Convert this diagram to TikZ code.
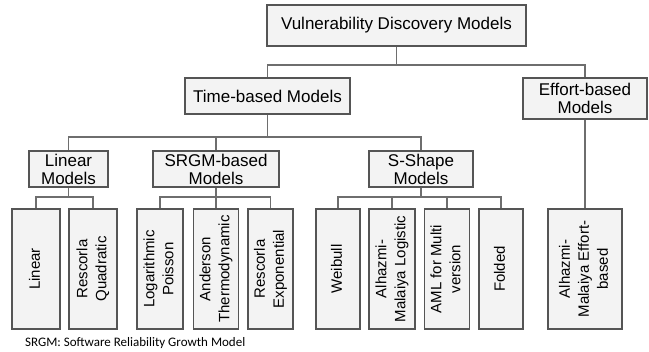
\documentclass[tikz,border=0pt]{standalone}
\usepackage{fontspec}
\setmainfont{Liberation Sans}
\newfontfamily\calib{Carlito}
\definecolor{boxline}{HTML}{555555}
\definecolor{boxfill}{HTML}{F3F3F3}
\definecolor{conn}{HTML}{6E6E6E}
\newcommand{\vlab}[1]{\rotatebox{90}{\fontsize{15}{19}\selectfont\begin{tabular}{@{}c@{}}#1\end{tabular}}}
\begin{document}
\begin{tikzpicture}[x=1pt,y=-1pt,
  box/.style={draw=boxline, line width=1.5pt, fill=boxfill, inner sep=0pt, align=center,
    font=\fontsize{17}{18}\selectfont},
  leaf/.style={box, minimum height=120pt},
  link/.style={draw=conn, line width=1.6pt}]
\useasboundingbox (0,0) rectangle (649,352);
% level 0
\node[box, minimum width=259pt, minimum height=41pt] (top) at (396.5,25.5) {Vulnerability Discovery Models};
% level 1
\node[box, minimum width=165pt, minimum height=36pt] (time) at (267.5,96) {Time-based Models};
\node[box, minimum width=124pt, minimum height=41pt] (effort) at (585,98.5) {Effort-based\\Models};
% level 2
\node[box, minimum width=79pt, minimum height=36pt] (linm) at (68.5,169) {Linear\\Models};
\node[box, minimum width=126pt, minimum height=36pt] (srgm) at (216,169) {SRGM-based\\Models};
\node[box, minimum width=104pt, minimum height=36pt] (sshape) at (421,169) {S-Shape\\Models};
% leaves
\node[leaf, minimum width=48pt] (l1) at (36,269) {\vlab{Linear}};
\node[leaf, minimum width=48pt] (l2) at (93,269) {\vlab{Rescorla\\Quadratic}};
\node[leaf, minimum width=46pt] (l3) at (160,269) {\vlab{Logarithmic\\Poisson}};
\node[leaf, minimum width=45pt] (l4) at (216,269) {\vlab{Anderson\\Thermodynamic}};
\node[leaf, minimum width=45pt] (l5) at (270.5,269) {\vlab{Rescorla\\Exponential}};
\node[leaf, minimum width=44pt] (l6) at (338,269) {\vlab{Weibull}};
\node[leaf, minimum width=46pt] (l7) at (392,269) {\vlab{Alhazmi-\\Malaiya Logistic}};
\node[leaf, minimum width=45pt] (l8) at (447,269) {\vlab{AML for Multi\\version}};
\node[leaf, minimum width=44pt] (l9) at (501,269) {\vlab{Folded}};
\node[leaf, minimum width=74pt] (l10) at (585,269) {\vlab{Alhazmi-\\Malaiya Effort-\\based}};
% junctions
\coordinate (j1) at (396.5,65);
\coordinate (j2) at (267.5,137);
\coordinate (j3) at (68.5,197);
\coordinate (j4) at (216,197);
\coordinate (j5) at (421,197);
% connectors
\draw[link] (top.south) -- (j1);
\draw[link] (time.north) |- (j1) -| (effort.north);
\draw[link] (time.south) -- (j2);
\draw[link] (linm.north) |- (j2) -| (sshape.north);
\draw[link] (srgm.north) -- (srgm.north |- j2);
\draw[link] (linm.south) -- (j3);
\draw[link] (l1.north) |- (j3) -| (l2.north);
\draw[link] (srgm.south) -- (l4.north);
\draw[link] (l3.north) |- (j4) -| (l5.north);
\draw[link] (sshape.south) -- (j5);
\draw[link] (l6.north) |- (j5) -| (l9.north);
\draw[link] (l7.north) -- (l7.north |- j5);
\draw[link] (l8.north) -- (l8.north |- j5);
\draw[link] (effort.south) -- (l10.north);
% note
\node[anchor=base west, inner sep=0pt, font=\calib\fontsize{13}{15}\selectfont] (note) at (25,347) {SRGM: Software Reliability Growth Model};
\end{tikzpicture}
\end{document}
